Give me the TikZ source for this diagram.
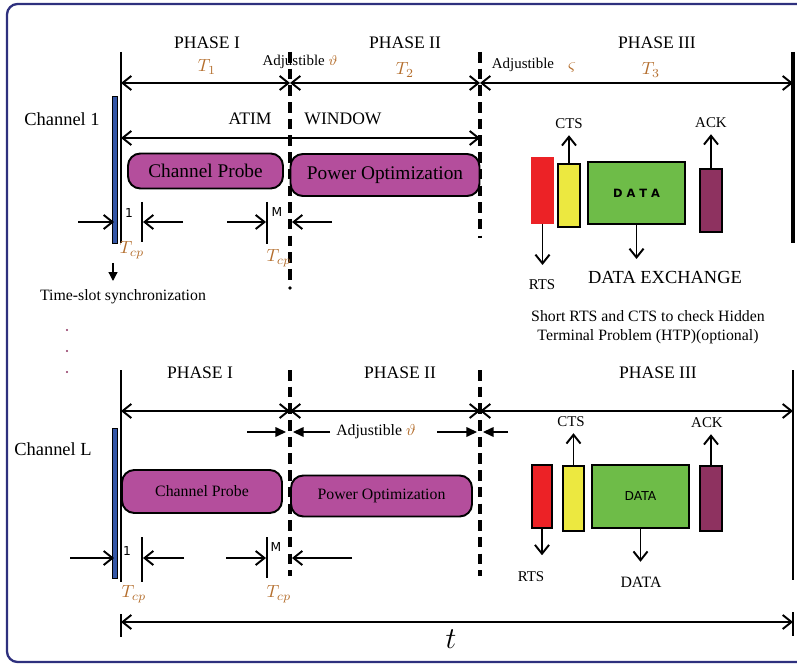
\documentclass[tikz,border=0pt]{standalone}
\usepackage{fontspec}
\setmainfont{Liberation Serif}
\newfontfamily\tagfont{DejaVu Sans}
\usetikzlibrary{arrows.meta}
\definecolor{framenavy}{RGB}{46,48,126}
\definecolor{syncblue}{RGB}{52,86,166}
\definecolor{probemag}{RGB}{180,78,156}
\definecolor{rtsred}{RGB}{236,34,38}
\definecolor{ctsyellow}{RGB}{236,232,64}
\definecolor{datagreen}{RGB}{110,188,72}
\definecolor{ackmaroon}{RGB}{142,50,96}
\definecolor{tbrown}{RGB}{180,110,45}
\tikzset{barb/.tip={Straight Barb[length=5pt,width=8pt]}}
\begin{document}
\begin{tikzpicture}[x=0.02cm,y=-0.02cm,
    dim/.style={line width=1.1pt,{barb}-{barb}},
    gapar/.style={line width=1.1pt,-{barb}},
    sigar/.style={line width=1.1pt,-{barb}},
    adjar/.style={line width=0.7pt,-{Triangle[length=6pt,width=5.5pt]}},
    tline/.style={line width=0.9pt},
    slot/.style={line width=2.1pt,dash pattern=on 6pt off 3.5pt},
    probe/.style={draw,line width=1.1pt,fill=probemag,rounded corners=7pt,inner sep=0pt},
    pkt/.style={draw,line width=0.8pt,inner sep=0pt},
    txt/.style={font=\fontsize{10}{12}\selectfont},
    small/.style={font=\fontsize{8.5}{10}\selectfont},
    tag/.style={font=\tagfont\fontsize{7}{8}\selectfont},
    tsym/.style={text=tbrown,font=\fontsize{10}{12}\selectfont}]
\useasboundingbox (0,0) rectangle (797,665);
\draw[framenavy,line width=1.3pt,rounded corners=6pt] (797,4) -- (7,4) -- (7,662) -- (797,662);

% channel 1
\node[txt] (ph1a) at (207,43) {PHASE I};
\node[txt] (ph2a) at (405,43) {PHASE II};
\node[txt] (ph3a) at (657,43) {PHASE III};
\node[tsym] (t1) at (207,67) {$T_1$};
\node[tsym] (t2) at (405,70) {$T_2$};
\node[tsym] (t3) at (651,70) {$T_3$};
\node[small] (adj1) at (300,62) {Adjustible \textcolor{tbrown}{$\vartheta$}};
\node[small] (adj1b) at (523,65) {Adjustible};
\node[tsym] (vs1) at (572,68) {$\varsigma$};
\node[txt,font=\fontsize{10.5}{12}\selectfont] (ch1) at (62,119) {Channel 1};
\node[txt] (atim) at (250,119) {ATIM};
\node[txt] (win) at (343,119) {WINDOW};

\draw[tline] (121,52) -- (121,243);
\draw[slot] (290,52) -- (290,285);
\fill (290,288) circle (1pt);
\draw[slot] (480,52) -- (480,238);
\draw[line width=2.3pt] (793,52) -- (793,243);
\draw[fill=syncblue,line width=0.5pt] (112,96) rectangle (117,243);

\coordinate (u0) at (121,83); \coordinate (u1) at (290,83);
\coordinate (u2) at (480,83); \coordinate (u3) at (793,83);
\draw[dim] (u0) -- (u1); \draw[dim] (u1) -- (u2); \draw[dim] (u2) -- (u3);
\coordinate (w0) at (121,138); \coordinate (w1) at (480,138);
\draw[dim] (w0) -- (w1);

\node[probe,minimum width=3.1cm,minimum height=0.7cm,font=\fontsize{11}{13}\selectfont] (probe1) at (205.5,171) {Channel Probe};
\node[probe,minimum width=3.78cm,minimum height=0.84cm,font=\fontsize{11}{13}\selectfont] (power1) at (385,175) {Power Optimization};

\coordinate (s0) at (78,222); \coordinate (s1) at (114,222);
\coordinate (s2) at (183,222); \coordinate (s3) at (143,222);
\draw[gapar] (s0) -- (s1); \draw[gapar] (s2) -- (s3);
\draw[tline] (142,202) -- (142,242);
\node[tag] (one1) at (129,213) {1};
\node[tsym] (tcp1) at (132,250) {$T_{cp}$};
\coordinate (m0) at (227,222); \coordinate (m1) at (266,222);
\coordinate (m2) at (332,222); \coordinate (m3) at (292,222);
\draw[gapar] (m0) -- (m1); \draw[gapar] (m2) -- (m3);
\draw[tline] (267,202) -- (267,244);
\node[tag] (em1) at (277,212) {M};
\node[tsym] (tcp2) at (279,258) {$T_{cp}$};

\coordinate (y0) at (113,263); \coordinate (y1) at (113,281);
\draw[line width=0.7pt,-{Triangle[length=5pt,width=5pt]}] (y0) -- (y1);
\node[font=\fontsize{9}{11}\selectfont] (sync) at (123,297) {Time-slot synchronization};
\foreach \y in {330,351,372} \fill[ackmaroon] (67,\y) circle (0.6pt);

\node[pkt,fill=rtsred,draw=rtsred,minimum width=0.42cm,minimum height=1.3cm] (rts1) at (542.5,190.5) {};
\node[pkt,fill=ctsyellow,minimum width=0.44cm,minimum height=1.26cm] (cts1) at (569,195.5) {};
\node[pkt,fill=datagreen,minimum width=1.94cm,minimum height=1.24cm,font=\tagfont\bfseries\fontsize{6.5}{8}\selectfont] (data1) at (636.5,193) {D A T A};
\node[pkt,fill=ackmaroon,minimum width=0.44cm,minimum height=1.26cm] (ack1) at (711,200.5) {};
\node[small] (ctsl1) at (569,124) {CTS};
\node[small] (ackl1) at (711,123) {ACK};
\node[small] (rtsl1) at (542,285) {RTS};
\node[txt,font=\fontsize{10.5}{12}\selectfont] (dex) at (665,277) {DATA EXCHANGE};
\coordinate (dx1) at (636.5,259);
\draw[sigar] (cts1.north) -- (cts1.north |- ctsl1.south);
\draw[sigar] (ack1.north) -- (ack1.north |- ackl1.south);
\draw[sigar,shorten >=5pt] (rts1.south) -- (rts1.south |- rtsl1.north);
\draw[sigar] (data1.south) -- (dx1);
\node[font=\fontsize{9}{11}\selectfont,align=center] (htp) at (648,327) {Short RTS and CTS to check Hidden\\ Terminal Problem (HTP)(optional)};

% channel L
\node[txt] (ph1b) at (200,373) {PHASE I};
\node[txt] (ph2b) at (400,373) {PHASE II};
\node[txt] (ph3b) at (658,373) {PHASE III};
\node[txt,font=\fontsize{10.5}{12}\selectfont] (chl) at (53,449) {Channel L};

\draw[tline] (121,370) -- (121,582);
\draw[slot] (290,370) -- (290,576);
\draw[slot] (480,370) -- (480,576);
\draw[line width=1pt] (793,370) -- (793,580);
\draw[fill=syncblue,line width=0.5pt] (112,428) rectangle (117,578);

\coordinate (v0) at (121,411); \coordinate (v1) at (290,411);
\coordinate (v2) at (480,411); \coordinate (v3) at (793,411);
\draw[dim] (v0) -- (v1); \draw[dim] (v1) -- (v2); \draw[dim] (v2) -- (v3);

\node[small,font=\fontsize{9}{11}\selectfont] (adj2) at (376,432) {Adjustible \textcolor{tbrown}{$\vartheta$}};
\coordinate (g0) at (247,432); \coordinate (g1) at (286,432);
\coordinate (g2) at (318,432); \coordinate (g3) at (293,432);
\coordinate (g4) at (437,432); \coordinate (g5) at (477,432);
\coordinate (g6) at (508,432); \coordinate (g7) at (483,432);
\draw[adjar] (g0) -- (g1); \draw[adjar] (adj2.west) -- (g3);
\draw[adjar] (g4) -- (g5); \draw[adjar] (g6) -- (g7);

\node[probe,minimum width=3.2cm,minimum height=0.86cm,font=\fontsize{9}{11}\selectfont] (probe2) at (202,491.5) {Channel Probe};
\node[probe,minimum width=3.62cm,minimum height=0.82cm,font=\fontsize{9}{11}\selectfont] (power2) at (381.5,496) {Power Optimization};

\coordinate (s4) at (70,558); \coordinate (s5) at (114,558);
\coordinate (s6) at (184,558); \coordinate (s7) at (143,558);
\draw[gapar] (s4) -- (s5); \draw[gapar] (s6) -- (s7);
\draw[tline] (142,537) -- (142,582);
\node[tag] (one2) at (127,551) {1};
\node[tsym] (tcp3) at (134,594) {$T_{cp}$};
\coordinate (m4) at (226,558); \coordinate (m5) at (266,558);
\coordinate (m6) at (352,558); \coordinate (m7) at (292,558);
\draw[gapar] (m4) -- (m5); \draw[gapar] (m6) -- (m7);
\draw[tline] (267,537) -- (267,578);
\node[tag] (em2) at (276,547) {M};
\node[tsym] (tcp4) at (279,594) {$T_{cp}$};

\node[pkt,fill=rtsred,minimum width=0.4cm,minimum height=1.26cm] (rts2) at (542,496.5) {};
\node[pkt,fill=ctsyellow,minimum width=0.42cm,minimum height=1.3cm] (cts2) at (573.5,498.5) {};
\node[pkt,fill=datagreen,minimum width=1.94cm,minimum height=1.26cm,font=\tagfont\fontsize{7}{8}\selectfont] (data2) at (640.5,496.5) {DATA};
\node[pkt,fill=ackmaroon,minimum width=0.44cm,minimum height=1.3cm] (ack2) at (711,498.5) {};
\node[small] (ctsl2) at (571,422) {CTS};
\node[small] (ackl2) at (707,423) {ACK};
\node[small] (rtsl2) at (531,577) {RTS};
\node[small,font=\fontsize{9}{11}\selectfont] (datal2) at (641,582) {DATA};
\draw[sigar] (cts2.north) -- (cts2.north |- ctsl2.south);
\draw[sigar] (ack2.north) -- (ack2.north |- ackl2.south);
\draw[sigar,shorten >=6pt] (rts2.south) -- (rts2.south |- rtsl2.north);
\draw[sigar,shorten >=5pt] (data2.south) -- (data2.south |- datal2.north);

% time axis
\draw[tline] (121,614) -- (121,637);
\draw[tline] (793,612) -- (793,636);
\coordinate (z0) at (121,622); \coordinate (z1) at (793,622);
\draw[dim] (z0) -- (z1);
\node[font=\fontsize{16}{18}\selectfont] (tt) at (451,639) {$t$};
\end{tikzpicture}
\end{document}
